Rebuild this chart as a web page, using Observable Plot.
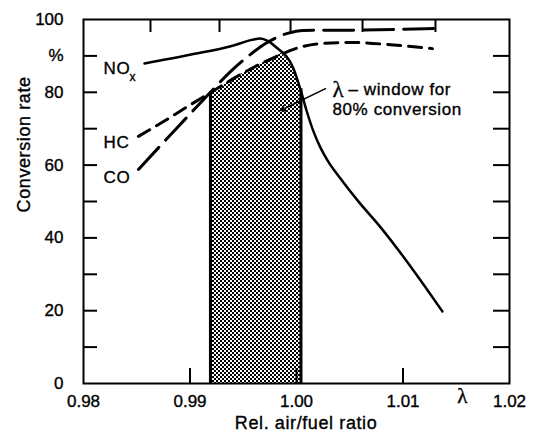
<!DOCTYPE html>
<html><head><meta charset="utf-8">
<script src="https://cdn.jsdelivr.net/npm/d3@7"></script>
<script src="https://cdn.jsdelivr.net/npm/@observablehq/plot@0.6"></script>
<style>
html,body{margin:0;padding:0;background:#fff;}
svg g[aria-label="text"] text{letter-spacing:0.6px;}
svg text{stroke:#000;stroke-width:0.35px;}
</style>
</head><body><div id="chart"></div>
<script>
// ---- data ----
const lambdaNOx = [0.98573, 0.9900, 0.9940, 0.9958, 0.9966, 0.9973, 0.9980, 0.99972, 1.0004, 1.00094, 1.00160, 1.00225, 1.00291, 1.00413, 1.00573, 1.0079, 1.0110, 1.0137];
const convNOx   = [87.9, 90.3, 92.8, 94.4, 94.8, 94.1, 92.6, 86.5, 80.5, 75.0, 69.2, 64.8, 61.3, 56.3, 50.3, 42.9, 31.0, 19.8];

const lambdaHC = [0.98516, 0.98798, 0.99005, 0.99192, 0.99474, 0.99690, 0.99831, 0.99972, 1.00197, 1.00507, 1.00911, 1.01277];
const convHC   = [67.9, 72.8, 76.6, 79.9, 84.9, 88.2, 90.1, 91.8, 93.3, 93.7, 93.0, 92.0];

const lambdaCO = [0.98516, 0.98864, 0.99192, 0.99380, 0.99568, 0.99709, 0.99915, 1.00066, 1.00601, 1.01286];
const convCO   = [58.8, 69.8, 80.0, 85.7, 90.4, 93.4, 96.2, 97.0, 97.1, 97.5];

// lambda window for 80 % conversion (upper boundary of shaded area)
const windowLambda = [0.99192, 0.99333, 0.99474, 0.99690, 0.99859, 0.99915, 0.99972, 1.00042];
const windowTop    = [79.9, 82.4, 84.9, 88.2, 90.7, 89.0, 86.5, 81.0];

// axes
const xTickValues = [0.98, 0.99, 1.00, 1.01, 1.02];
const xInnerTicks = [0.99, 1.00, 1.01];
const yTickValues = [0, 20, 40, 60, 80, 90, 100];
const yTickLabels = ["0", "20", "40", "60", "80", "%", "100"];
const yInnerTicks = [10, 20, 30, 40, 50, 60, 70, 80, 90];
const topTicks = [0.98629, 0.99277, 0.99944, 1.00620, 1.01305];

// curve labels
const curveNames  = ["NO", "HC", "CO"];
const curveLabelLambda = [0.98188, 0.98188, 0.98188];
const curveLabelConv   = [86.4, 66.3, 56.7];
const noxSubscript = {text: "x", lambda: 0.98432, conv: 84.1};

// annotation
const annoLines  = ["– window for", "80% conversion"];
const annoLambda = [1.00488, 1.00338];
const annoConv   = [80.8, 75.3];
const annoSymbol = {text: "λ", lambda: 1.00338, conv: 80.8};
const leader = [{x1: 1.00272, y1: 81.0, x2: 0.9985, y2: 75.0}];
const axisLambda = {text: "λ", lambda: 1.01559};

// ---- build ----
const W = 542, H = 433, mL = 83, mR = 33, mT = 19, mB = 50;
const pw = W - mL - mR, ph = H - mT - mB;
const zip = (xs, ys) => xs.map((x, i) => ({x, y: ys[i]}));
const nox = zip(lambdaNOx, convNOx), hc = zip(lambdaHC, convHC), co = zip(lambdaCO, convCO);
const win = zip(windowLambda, windowTop);
const winEdges = [win[0], win[win.length - 1]];
const sans = "Liberation Sans, Arial, Helvetica, sans-serif";
const serif = "Liberation Serif, DejaVu Serif, serif";

const plot = Plot.plot({
  width: W, height: H,
  marginLeft: mL, marginRight: mR, marginTop: mT, marginBottom: mB,
  style: {fontFamily: sans, fontSize: "17px", color: "#000", background: "#fff"},
  x: {domain: [0.98, 1.02]},
  y: {domain: [0, 100]},
  marks: [
    Plot.areaY(win, {x: "x", y: "y", fill: "url(#dots)"}),
    Plot.ruleX(winEdges, {x: "x", y1: 0, y2: "y", strokeWidth: 3, stroke: "#000"}),
    Plot.line(nox, {x: "x", y: "y", curve: "monotone-x", stroke: "#000", strokeWidth: 2.5}),
    Plot.line(hc, {x: "x", y: "y", curve: "monotone-x", stroke: "#000", strokeWidth: 3, strokeDasharray: "13,8"}),
    Plot.line(co, {x: "x", y: "y", curve: "monotone-x", stroke: "#000", strokeWidth: 3, strokeDasharray: "30,10"}),
    Plot.frame({stroke: "#000", strokeWidth: 2}),
    Plot.tickY(yInnerTicks, {y: d => d, insetRight: pw - 14, stroke: "#000", strokeWidth: 2}),
    Plot.tickY(yInnerTicks, {y: d => d, insetLeft: pw - 16, stroke: "#000", strokeWidth: 2}),
    Plot.tickX(xInnerTicks, {x: d => d, insetTop: ph - 15, stroke: "#000", strokeWidth: 2}),
    Plot.tickX(topTicks, {x: d => d, insetBottom: ph - 13, stroke: "#000", strokeWidth: 2}),
    Plot.axisX({ticks: xTickValues, tickSize: 0, tickPadding: 11, tickFormat: d3.format(".2f"), label: null, fontSize: 17}),
    Plot.axisY({ticks: yTickValues, tickSize: 0, tickPadding: 20, tickFormat: d => yTickLabels[yTickValues.indexOf(d)], label: null, fontSize: 17}),
    Plot.text(["Rel. air/fuel ratio"], {x: 1.0009, frameAnchor: "bottom", dy: 45, fontSize: 18}),
    Plot.text(["Conversion rate"], {frameAnchor: "left", y: 47, dx: -59, rotate: -90, fontSize: 18}),
    Plot.text([axisLambda], {x: "lambda", text: "text", frameAnchor: "bottom", dy: 19, fontSize: 21, fontFamily: serif}),
    Plot.text(curveNames, {x: (d, i) => curveLabelLambda[i], y: (d, i) => curveLabelConv[i], text: d => d, textAnchor: "start", fontSize: 17}),
    Plot.text([noxSubscript], {x: "lambda", y: "conv", text: "text", textAnchor: "start", fontSize: 12}),
    Plot.text(annoLines, {x: (d, i) => annoLambda[i], y: (d, i) => annoConv[i], text: d => d, textAnchor: "start", fontSize: 17}),
    Plot.text([annoSymbol], {x: "lambda", y: "conv", text: "text", textAnchor: "start", fontSize: 23, fontFamily: serif}),
    Plot.arrow(leader, {x1: "x1", y1: "y1", x2: "x2", y2: "y2", stroke: "#000", strokeWidth: 1.5, headLength: 6})
  ]
});

const svg = plot.tagName.toLowerCase() === "svg" ? plot : plot.querySelector("svg");
const ns = "http://www.w3.org/2000/svg";
const defs = document.createElementNS(ns, "defs");
defs.innerHTML = '<pattern id="dots" width="4" height="4" patternUnits="userSpaceOnUse">' +
  '<rect width="4" height="4" fill="#fff"/>' +
  '<rect x="0" y="0" width="2" height="2" fill="#000" shape-rendering="crispEdges"/>' +
  '<rect x="2" y="2" width="2" height="2" fill="#000" shape-rendering="crispEdges"/></pattern>';
svg.insertBefore(defs, svg.firstChild);
document.getElementById("chart").appendChild(plot);
</script>
</body></html>
